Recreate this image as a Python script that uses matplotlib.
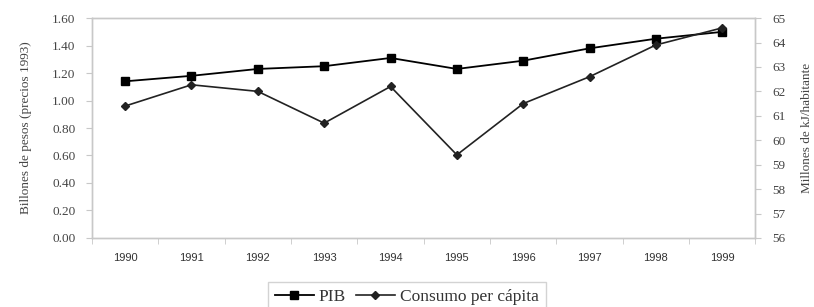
import numpy as np
import matplotlib.pyplot as plt

years = ['1990', '1991', '1992', '1993', '1994', '1995', '1996', '1997', '1998', '1999']
pib = [1.14, 1.18, 1.23, 1.25, 1.31, 1.23, 1.29, 1.38, 1.45, 1.50]
consumo = [61.4, 62.27, 62.0, 60.7, 62.2, 59.4, 61.5, 62.6, 63.9, 64.6]

serif = 'Liberation Serif'
sans = 'Liberation Sans'
grey = '#c8c8c8'

fig = plt.figure(figsize=(8.14, 3.07), dpi=100)
ax = fig.add_axes([0.113, 0.225, 0.815, 0.716])
ax2 = ax.twinx()

x = np.arange(len(years))
l1, = ax.plot(x, pib, color='black', lw=1.3, marker='s', ms=5.5)
l2, = ax2.plot(x, consumo, color='#222222', lw=1.2, marker='D', ms=4)

ax.set_xlim(-0.5, len(years) - 0.5)
ax.set_ylim(0, 1.6)
ax.set_yticks(np.arange(0, 1.61, 0.2))
ax.set_yticklabels(['%.2f' % v for v in np.arange(0, 1.61, 0.2)],
                   family=serif, fontsize=9.5, color='#444444')
ax2.set_ylim(56, 65)
ax2.set_yticks(range(56, 66))
ax2.set_yticklabels([str(v) for v in range(56, 66)], family=serif,
                    fontsize=9.5, color='#444444')

ax.set_xticks(x)
ax.set_xticklabels(years, family=sans, fontsize=8, color='#333333')
ax.set_xticks(np.arange(-0.5, len(years)), minor=True)
ax.tick_params(axis='x', which='major', length=0, pad=11)
ax.tick_params(axis='x', which='minor', length=4, color=grey, direction='out')
ax.tick_params(axis='y', length=4, color=grey, pad=8)
ax2.tick_params(axis='y', length=4, color=grey, pad=8)

for a in (ax, ax2):
    for s in a.spines.values():
        s.set_color(grey)
        s.set_linewidth(1.0)

ax.set_ylabel('Billones de pesos (precios 1993)', family=serif, fontsize=9.5,
              color='#444444', labelpad=14)
ax2.set_ylabel('Millones de kJ/habitante', family=serif, fontsize=9.5,
               color='#444444', labelpad=11)

leg = fig.legend([l1, l2], ['PIB', 'Consumo per cápita'], loc='lower center',
                 bbox_to_anchor=(0.50, -0.045), ncol=2, frameon=True, fancybox=False,
                 prop={'family': serif, 'size': 12.5}, handlelength=2.2,
                 columnspacing=0.6, handletextpad=0.3, borderpad=0.4)
leg.get_frame().set_edgecolor(grey)
for t in leg.get_texts():
    t.set_color('#333333')

fig.savefig('out.png', dpi=100)
